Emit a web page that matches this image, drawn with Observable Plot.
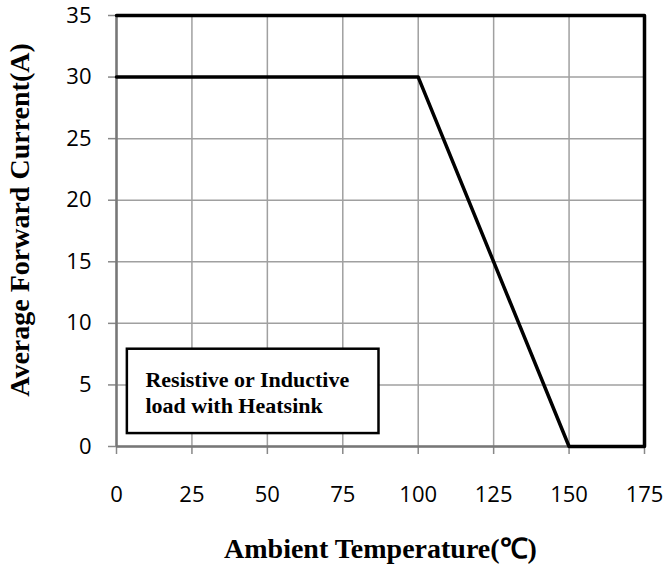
<!DOCTYPE html>
<html><head><meta charset="utf-8">
<script src="https://cdn.jsdelivr.net/npm/d3@7"></script>
<script src="https://cdn.jsdelivr.net/npm/@observablehq/plot@0.6"></script>
<style>
body{margin:0;background:#fff;}
svg g[aria-label$="tick label"] text{font-size:22px;}
</style></head>
<body><div id="chart"></div>
<script>
const temps = [0, 100, 150, 175, 175, 0];
const currents = [30, 30, 0, 0, 35, 35];
const xTicks = [0, 25, 50, 75, 100, 125, 150, 175];
const yTicks = [0, 5, 10, 15, 20, 25, 30, 35];
const noteLines = ["Resistive or Inductive", "load with Heatsink"];
const xTitle = "Ambient Temperature(℃)";
const yTitle = "Average Forward Current(A)";

const curve = temps.map((t, i) => ({t, c: currents[i]}));
const serif = "'Liberation Serif', 'Times New Roman', serif";

const chart = Plot.plot({
  width: 666, height: 572,
  marginLeft: 116, marginRight: 22, marginTop: 15, marginBottom: 126,
  style: {fontFamily: "'Open Sans', sans-serif", fontSize: "22px", background: "#fff", color: "#000"},
  x: {domain: [0, 175]},
  y: {domain: [0, 35]},
  marks: [
    Plot.ruleX(xTicks, {stroke: "#a0a0a0", strokeWidth: 1.5}),
    Plot.ruleY(yTicks, {stroke: "#a0a0a0", strokeWidth: 1.5}),
    Plot.axisX({ticks: xTicks, tickSize: 8, tickPadding: 32, stroke: "#888", strokeWidth: 1.5, fontSize: 22,
      label: xTitle, labelAnchor: "center", labelArrow: "none", labelOffset: 111}),
    Plot.axisY({ticks: yTicks, tickSize: 8, tickPadding: 17, stroke: "#888", strokeWidth: 1.5, fontSize: 22,
      label: yTitle, labelAnchor: "center", labelArrow: "none", labelOffset: 107}),
    Plot.ruleX([0], {stroke: "#777", strokeWidth: 2.5}),
    Plot.ruleY([0], {stroke: "#777", strokeWidth: 2.5}),
    Plot.line(curve, {x: "t", y: "c", stroke: "#000", strokeWidth: 3.5}),
    Plot.rect([0], {x1: 3.6, x2: 87, y1: 1.05, y2: 7.9, fill: "#fff", stroke: "#000", strokeWidth: 2.5}),
    Plot.text(noteLines, {x: 9.6, y: (d, i) => [5.44, 3.33][i], text: d => d, textAnchor: "start",
      fontFamily: serif, fontWeight: "bold", fontSize: 22, fill: "#000"})
  ]
});
d3.select(chart).selectAll("[aria-label='x-axis label'], [aria-label='y-axis label']")
  .attr("font-family", serif).attr("font-weight", "bold").attr("font-size", 28)
  .style("font-family", serif).style("font-weight", "bold").style("font-size", "28px");
const yl = d3.select(chart).select("[aria-label='y-axis label']");
yl.attr("transform", (yl.attr("transform") || "") + " translate(0,-11)");
document.getElementById("chart").append(chart);
</script>
</body></html>
